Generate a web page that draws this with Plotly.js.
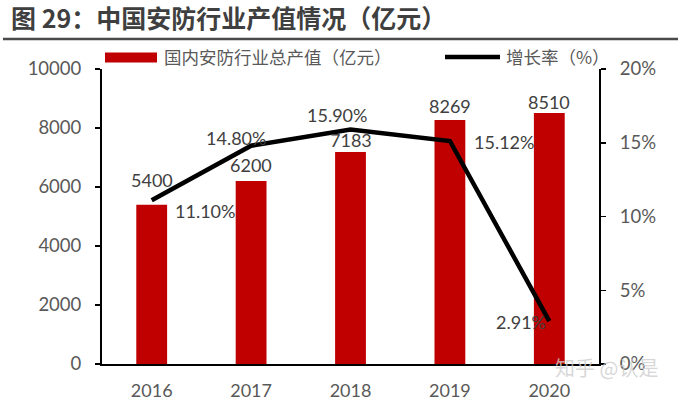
<!DOCTYPE html>
<html>
<head>
<meta charset="utf-8">
<script src="https://cdn.plot.ly/plotly-3.0.1.min.js"></script>
<style>html,body{margin:0;padding:0;background:#fff;}#chart{width:681px;height:401px;}</style>
</head>
<body>
<div id="chart"></div>
<script>
// ---- data ----
const years = ['2016', '2017', '2018', '2019', '2020'];
const outputValues = [5400, 6200, 7183, 8269, 8510];          // 亿元
const growthRates = [0.1110, 0.1480, 0.1590, 0.1512, 0.0291]; // 增长率
const growthLabels = ['11.10%', '14.80%', '15.90%', '15.12%', '2.91%'];
const barName = '国内安防行业总产值（亿元）';
const lineName = '增长率（%）';
const titleText = '图 29：中国安防行业产值情况（亿元）';

// ---- label offsets (style) ----
const barLabelShiftY = [25, 16, 12, 14, 11];
const lineLabelShiftX = [53, -15, -14, 54, -28];
const lineLabelShiftY = [-11, 8, 14, -1, -1];

const FONT = 'Lato, "Noto Sans CJK SC", sans-serif';
const CJK = '"Noto Sans CJK SC", sans-serif';
const GREY = '#595959';

const traces = [
  {
    type: 'bar', x: years, y: outputValues, name: barName,
    marker: {color: '#C00000'}, width: 0.31, yaxis: 'y',
    hoverinfo: 'skip', showlegend: false
  },
  {
    type: 'scatter', mode: 'lines', x: years, y: growthRates, name: lineName,
    line: {color: '#000000', width: 4.5}, yaxis: 'y2',
    hoverinfo: 'skip', showlegend: false
  }
];

const annotations = [];
years.forEach((yr, i) => {
  annotations.push({
    xref: 'x', yref: 'y', x: i, y: outputValues[i], text: String(outputValues[i]),
    showarrow: false, yanchor: 'middle', xanchor: 'center', yshift: barLabelShiftY[i],
    font: {family: FONT, size: 18, color: '#404040'}
  });
  annotations.push({
    xref: 'x', yref: 'y2', x: i, y: growthRates[i], text: growthLabels[i],
    showarrow: false, yanchor: 'middle', xanchor: 'center',
    xshift: lineLabelShiftX[i], yshift: lineLabelShiftY[i],
    font: {family: FONT, size: 18, color: '#404040'}
  });
});

// plot area geometry in px (for paper conversions)
const L = 102, R = 599, T = 69, B = 364;
const px2x = p => (p - L) / (R - L);
const py2y = p => (B - p) / (B - T);

// legend text
annotations.push({
  xref: 'paper', yref: 'paper', x: px2x(162), y: py2y(57), text: barName,
  showarrow: false, xanchor: 'left', yanchor: 'middle',
  font: {family: CJK, size: 17.5, color: GREY}
});
annotations.push({
  xref: 'paper', yref: 'paper', x: px2x(504), y: py2y(57), text: lineName,
  showarrow: false, xanchor: 'left', yanchor: 'middle',
  font: {family: CJK, size: 17.5, color: GREY}
});
// watermark
annotations.push({
  xref: 'paper', yref: 'paper', x: px2x(553), y: py2y(367), text: '知乎 @认是',
  showarrow: false, xanchor: 'left', yanchor: 'middle',
  font: {family: CJK, size: 20, color: 'rgba(205,205,205,0.8)'}
});

const shapes = [
  // title rule
  {type: 'line', xref: 'paper', yref: 'paper', x0: px2x(3), x1: px2x(678), y0: py2y(39), y1: py2y(39),
   line: {color: '#4a4a4a', width: 2.5}},
  // legend symbols
  {type: 'rect', xref: 'paper', yref: 'paper', x0: px2x(105), x1: px2x(157), y0: py2y(62.5), y1: py2y(52.5),
   fillcolor: '#C00000', line: {width: 0}},
  {type: 'line', xref: 'paper', yref: 'paper', x0: px2x(445), x1: px2x(500), y0: py2y(57), y1: py2y(57),
   line: {color: '#000000', width: 4.5}}
];

const layout = {
  width: 681, height: 401,
  margin: {l: L, r: 681 - R, t: T, b: 401 - B, pad: 0},
  paper_bgcolor: '#ffffff', plot_bgcolor: '#ffffff',
  showlegend: false,
  title: {
    text: '<b>' + titleText + '</b>',
    x: 11 / 681, xanchor: 'left', xref: 'container',
    y: 1 - 19 / 401, yanchor: 'middle', yref: 'container',
    font: {family: CJK, size: 25, color: '#3f3f3f'}
  },
  xaxis: {
    type: 'category', range: [-0.5, 4.5], autorange: false,
    showgrid: false, zeroline: false,
    showline: true, linecolor: '#000000', linewidth: 2,
    ticks: '', tickfont: {family: FONT, size: 18, color: GREY},
    ticklabelstandoff: 9
  },
  yaxis: {
    range: [0, 10000], autorange: false, dtick: 2000, tickformat: 'd',
    showgrid: false, zeroline: false,
    showline: true, linecolor: '#000000', linewidth: 2,
    ticks: 'outside', ticklen: 5, tickwidth: 1.5, tickcolor: '#000000',
    tickfont: {family: FONT, size: 18.5, color: GREY}, ticklabelstandoff: 10
  },
  yaxis2: {
    range: [0, 0.2], autorange: false, dtick: 0.05, tickformat: '.0%', overlaying: 'y', side: 'right',
    showgrid: false, zeroline: false,
    showline: true, linecolor: '#000000', linewidth: 2,
    ticks: 'outside', ticklen: 5, tickwidth: 1.5, tickcolor: '#000000',
    tickfont: {family: FONT, size: 18.5, color: GREY}, ticklabelstandoff: 10
  },
  annotations: annotations,
  shapes: shapes
};

Plotly.newPlot('chart', traces, layout, {displayModeBar: false, staticPlot: true});
</script>
</body>
</html>
